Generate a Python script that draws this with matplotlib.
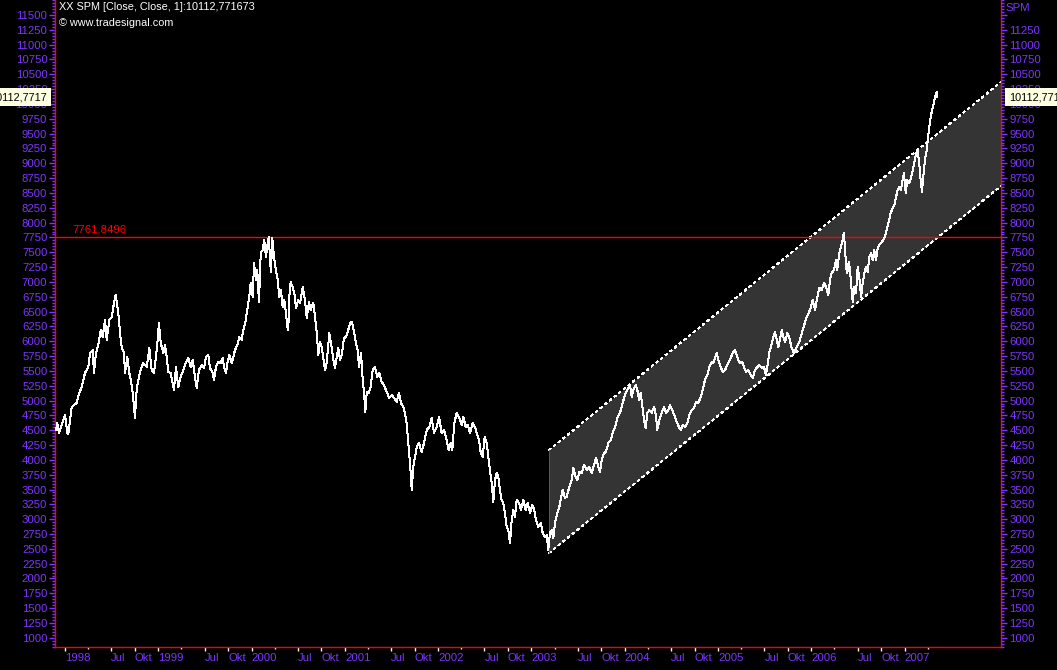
import matplotlib
matplotlib.use("Agg")
import matplotlib.pyplot as plt
import matplotlib.transforms as mtransforms
from matplotlib.ticker import FixedLocator, MultipleLocator, FixedFormatter

# Tradesignal-Chart "XX SPM", Schlusskurse 1998 - 2007 mit Trendkanal

plt.rcParams['font.family'] = ['Liberation Sans', 'DejaVu Sans']
plt.rcParams['font.size'] = 8.2

LILA = '#7d35ff'
ROT = '#ff0000'

# --- Kursverlauf (Zeit als Dezimaljahr) ---
zeit_1 = [
    1997.904, 1997.917, 1997.936, 1997.965, 1998.000, 1998.025, 1998.035, 1998.072, 1998.125, 1998.153,
    1998.179, 1998.214, 1998.250, 1998.268, 1998.297, 1998.311, 1998.332, 1998.357, 1998.383, 1998.404,
    1998.429, 1998.447, 1998.475, 1998.501, 1998.518, 1998.543, 1998.571, 1998.597, 1998.608, 1998.632,
    1998.643, 1998.668, 1998.689, 1998.707, 1998.726, 1998.750, 1998.768, 1998.786, 1998.811, 1998.839,
    1998.876, 1998.904, 1998.929, 1998.954, 1998.975, 1998.989, 1999.007, 1999.026, 1999.054, 1999.072,
    1999.090, 1999.107, 1999.133, 1999.154, 1999.168, 1999.190, 1999.214, 1999.240, 1999.268, 1999.297,
    1999.322, 1999.347, 1999.369, 1999.393, 1999.412, 1999.436, 1999.465, 1999.490, 1999.511, 1999.536,
    1999.554, 1999.583, 1999.597, 1999.618, 1999.643, 1999.669, 1999.690, 1999.704, 1999.726, 1999.740,
    1999.761, 1999.787, 1999.804, 1999.822, 1999.847, 1999.868, 1999.894, 1999.911, 1999.932, 1999.954,
    1999.975, 1999.990, 2000.012, 2000.026, 2000.047, 2000.061, 2000.079, 2000.098, 2000.119, 2000.136,
    2000.154, 2000.173, 2000.186, 2000.197, 2000.208, 2000.222, 2000.240, 2000.261, 2000.280, 2000.297,
    2000.315, 2000.333, 2000.350, 2000.369, 2000.383, 2000.393, 2000.404, 2000.419, 2000.440, 2000.458,
    2000.476, 2000.501,
]
kurs_1 = [
    4503, 4621, 4453, 4588, 4756, 4453, 4436, 4891, 4958, 5127,
    5228, 5464, 5565, 5801, 5852, 5464, 5801, 5936, 6189, 6071,
    6358, 6021, 6358, 6408, 6577, 6779, 6476, 6021, 5903, 5801,
    5464, 5734, 5464, 5346, 5127, 4706, 5178, 5346, 5515, 5633,
    5565, 5886, 5515, 5464, 5734, 5936, 6307, 5970, 5801, 5936,
    5734, 5481, 5464, 5296, 5178, 5565, 5228, 5397, 5515, 5650,
    5717, 5565, 5683, 5397, 5211, 5515, 5599, 5549, 5734, 5768,
    5549, 5464, 5346, 5565, 5650, 5633, 5717, 5565, 5464, 5633,
    5768, 5633, 5734, 5852, 5936, 6071, 6021, 6189, 6307, 6527,
    6746, 6982, 6746, 7319, 7032, 7201, 6661, 7487, 7538, 7707,
    7420, 7656, 7762, 7369, 7167, 7740, 7420, 7201, 7032, 6746,
    6864, 6577, 6695, 6476, 6240, 6189, 6746, 6998, 6914, 6813,
    6560, 6695,
]

zeit_2 = [
    2000.519, 2000.548, 2000.572, 2000.591, 2000.615, 2000.633, 2000.661, 2000.680, 2000.698, 2000.715,
    2000.733, 2000.751, 2000.768, 2000.787, 2000.805, 2000.833, 2000.858, 2000.876, 2000.894, 2000.912,
    2000.929, 2000.947, 2000.966, 2000.990, 2001.012, 2001.036, 2001.055, 2001.076, 2001.098, 2001.116,
    2001.137, 2001.151, 2001.173, 2001.191, 2001.205, 2001.219, 2001.234, 2001.255, 2001.276, 2001.298,
    2001.323, 2001.347, 2001.369, 2001.394, 2001.419, 2001.448, 2001.476, 2001.502, 2001.526, 2001.555,
    2001.580, 2001.601, 2001.626, 2001.644, 2001.662, 2001.679, 2001.698, 2001.716, 2001.733, 2001.751,
    2001.770, 2001.794, 2001.823, 2001.848, 2001.877, 2001.905, 2001.930, 2001.955, 2001.984, 2002.009,
    2002.037, 2002.062, 2002.091, 2002.112, 2002.134, 2002.151, 2002.173, 2002.198, 2002.223, 2002.252,
    2002.269, 2002.295, 2002.316, 2002.341, 2002.370, 2002.394, 2002.413, 2002.437, 2002.455, 2002.477,
    2002.498, 2002.520, 2002.537, 2002.555, 2002.573, 2002.591, 2002.609, 2002.627, 2002.644, 2002.662,
    2002.680, 2002.698, 2002.716, 2002.734, 2002.751, 2002.770, 2002.788, 2002.805, 2002.823, 2002.841,
    2002.866, 2002.887, 2002.912, 2002.938, 2002.959, 2002.984, 2003.009, 2003.030, 2003.048, 2003.073,
    2003.099, 2003.120, 2003.145, 2003.163, 2003.180,
]
kurs_2 = [
    6644, 6914, 6695, 6392, 6661, 6527, 6644, 6408, 6139, 5768,
    5987, 5903, 5717, 5515, 5633, 6139, 5903, 5683, 5549, 5717,
    5886, 5683, 5768, 6054, 6071, 6189, 6307, 6324, 6155, 5987,
    5852, 5565, 5801, 5346, 5127, 4807, 5144, 5127, 5228, 5515,
    5565, 5397, 5464, 5312, 5262, 5144, 5043, 5093, 5043, 4975,
    5127, 4958, 4891, 4790, 4621, 4284, 3947, 3492, 3880, 4048,
    4217, 4284, 4132, 4284, 4503, 4554, 4706, 4453, 4554, 4722,
    4453, 4503, 4335, 4166, 4284, 4166, 4621, 4790, 4722, 4588,
    4722, 4554, 4588, 4453, 4621, 4554, 4453, 4335, 4132, 4048,
    4385, 4284, 4048, 3829, 3610, 3289, 3660, 3778, 3711, 3492,
    3323, 3272, 3104, 2868, 2817, 2598, 2986, 3154, 3036, 3323,
    3272, 3154, 3323, 3154, 3272, 3104, 3239, 3154, 2986, 2868,
    2935, 2767, 2699, 2733, 2480,
]

zeit_3 = [
    2003.198, 2003.216, 2003.234, 2003.252, 2003.276, 2003.298, 2003.313, 2003.334, 2003.359, 2003.377,
    2003.405, 2003.431, 2003.448, 2003.474, 2003.491, 2003.512, 2003.538, 2003.563, 2003.592, 2003.619,
    2003.645, 2003.670, 2003.691, 2003.716, 2003.734, 2003.752, 2003.777, 2003.798, 2003.823, 2003.849,
    2003.870, 2003.895, 2003.920, 2003.948, 2003.977, 2003.995, 2004.013, 2004.037, 2004.056, 2004.074,
    2004.091, 2004.117, 2004.134, 2004.155, 2004.170, 2004.192, 2004.206, 2004.224, 2004.241, 2004.262,
    2004.288, 2004.313, 2004.334, 2004.348, 2004.370, 2004.395, 2004.420, 2004.441, 2004.466, 2004.484,
    2004.509, 2004.530, 2004.556, 2004.581, 2004.599, 2004.620, 2004.645, 2004.670, 2004.691, 2004.717,
    2004.742, 2004.763, 2004.788, 2004.813, 2004.835, 2004.859, 2004.884, 2004.906, 2004.931, 2004.948,
    2004.967, 2004.985, 2005.002, 2005.020, 2005.049, 2005.074, 2005.098, 2005.127, 2005.156, 2005.181,
    2005.199, 2005.216, 2005.235, 2005.259, 2005.277, 2005.299, 2005.324, 2005.349, 2005.371, 2005.395,
    2005.420, 2005.441, 2005.467, 2005.492, 2005.513, 2005.531, 2005.549, 2005.567, 2005.592, 2005.610,
    2005.628, 2005.645, 2005.663, 2005.682, 2005.699, 2005.717, 2005.742, 2005.763, 2005.789, 2005.813,
    2005.842, 2005.870,
]
kurs_3 = [
    2767, 2817, 2682, 2935, 3104, 3205, 3323, 3492, 3357, 3374,
    3542, 3660, 3863, 3711, 3660, 3795, 3778, 3913, 3829, 3880,
    3778, 3913, 4031, 3880, 3795, 3997, 4116, 4132, 4284, 4335,
    4453, 4554, 4706, 4790, 4958, 5060, 5144, 5211, 5262, 5060,
    5178, 5262, 5178, 5009, 5127, 4840, 4672, 4537, 4790, 4840,
    4790, 4891, 4756, 4503, 4672, 4790, 4891, 4790, 4840, 4925,
    4840, 4756, 4638, 4554, 4503, 4588, 4554, 4621, 4756, 4840,
    4874, 4975, 4958, 5060, 5178, 5346, 5431, 5565, 5650, 5633,
    5717, 5801, 5683, 5599, 5481, 5515, 5599, 5683, 5801, 5852,
    5768, 5683, 5633, 5650, 5565, 5481, 5515, 5431, 5380, 5515,
    5565, 5599, 5549, 5565, 5431, 5599, 5818, 5903, 6071, 6155,
    6021, 5903, 6021, 6189, 6071, 5987, 6139, 6054, 5886, 5801,
    5903, 5987,
]

zeit_4 = [
    2005.913, 2005.949, 2005.985, 2006.014, 2006.039, 2006.063, 2006.085, 2006.110, 2006.135, 2006.156,
    2006.181, 2006.199, 2006.217, 2006.242, 2006.263, 2006.277, 2006.299, 2006.317, 2006.335, 2006.346,
    2006.360, 2006.371, 2006.385, 2006.400, 2006.414, 2006.428, 2006.443, 2006.460, 2006.478, 2006.496,
    2006.513, 2006.532, 2006.550, 2006.567, 2006.585, 2006.603, 2006.620, 2006.639, 2006.657, 2006.674,
    2006.692, 2006.710, 2006.728, 2006.753, 2006.778, 2006.799, 2006.824, 2006.850, 2006.871, 2006.889,
    2006.907, 2006.925, 2006.942, 2006.960, 2006.978, 2006.992, 2007.011, 2007.028, 2007.049, 2007.067,
    2007.086, 2007.103, 2007.118, 2007.135, 2007.153, 2007.171, 2007.185, 2007.199, 2007.217, 2007.236,
    2007.246, 2007.260, 2007.274, 2007.289, 2007.303, 2007.317, 2007.332, 2007.343, 2007.350,
]
kurs_4 = [
    6223, 6408, 6527, 6695, 6527, 6746, 6897, 6864, 6982, 6914,
    6779, 7032, 7150, 7201, 7369, 7201, 7487, 7589, 7707, 7825,
    7589, 7251, 7150, 7336, 7201, 6914, 6661, 6914, 6813, 7251,
    7083, 6746, 6982, 7150, 7251, 7167, 7420, 7487, 7369, 7538,
    7369, 7572, 7622, 7673, 7724, 7825, 7993, 8162, 8246, 8297,
    8432, 8550, 8600, 8550, 8718, 8836, 8499, 8718, 8668, 8752,
    8887, 9005, 9140, 9224, 9055, 8718, 8516, 8769, 9055, 9224,
    9393, 9561, 9730, 9865, 9949, 10067, 10151, 10202, 10112.771673,
]

# Trendkanal (Start- und Endpunkt)
kanal_zeit = [2003.187, 2008.032]
kanal_unten = [2429, 8617]
kanal_oben = [4166, 10370]

# horizontale Linie (altes Hoch)
linie_wert = 7761.8496
letzter_kurs = 10112.771673

# Achsen
y_ticks_links = list(range(1000, 11501, 250))
y_ticks_rechts = list(range(1000, 11501, 250))
y_labels_rechts = [str(v) for v in range(1000, 11251, 250)] + ['']
jahre = list(range(1998, 2008))
monat_anteil = [0.0, 0.2466, 0.4959, 0.7479]   # Jan, Apr, Jul, Okt
monat_namen = [None, '', 'Jul', 'Okt']

zeit = zeit_1 + zeit_2 + zeit_3 + zeit_4
kurs = kurs_1 + kurs_2 + kurs_3 + kurs_4
if len(zeit) != len(kurs):
    print("Laengen passen nicht:", len(zeit), len(kurs))

# x-Ticks bis April 2007 (Ende der Kursdaten)
x_haupt, x_haupt_lbl, x_neben = [], [], []
for j in jahre:
    for anteil, name in zip(monat_anteil, monat_namen):
        t = j + anteil
        if t > zeit[-1] - 0.1:
            continue
        if name == '':
            x_neben.append(t)
        else:
            x_haupt.append(t)
            x_haupt_lbl.append(str(j) if name is None else name)

fig = plt.figure(figsize=(10.57, 6.70), dpi=100, facecolor='black')
ax = fig.add_axes([55 / 1057, 23 / 670, 946 / 1057, 647 / 670])
ax.set_facecolor('black')

# Kanal
ax.fill_between(kanal_zeit, kanal_unten, kanal_oben, color='#343434', lw=0, zorder=1)
ax.plot(kanal_zeit, kanal_oben, color='white', lw=0.72, ls=(0, (2.5, 3.5)), antialiased=False, zorder=2)
ax.plot(kanal_zeit, kanal_unten, color='white', lw=0.72, ls=(0, (2.5, 3.5)), antialiased=False, zorder=2)
ax.vlines(kanal_zeit[0], kanal_unten[0], kanal_oben[0], color='#5a5a5a', lw=0.72,
          antialiased=False, zorder=2)

ax.axhline(linie_wert, color=ROT, lw=1.0, snap=True, zorder=3)
ax.plot(zeit, kurs, color='white', lw=0.72, antialiased=False, zorder=4)

ax.set_xlim(1997.893, 2008.032)
ax.set_ylim(845, 11753)

for s in ['left', 'right', 'bottom']:
    ax.spines[s].set_color(ROT)
    ax.spines[s].set_linewidth(1.0)
ax.spines['top'].set_visible(False)

# linke y-Achse
ax.yaxis.set_major_locator(FixedLocator(y_ticks_links))
ax.yaxis.set_minor_locator(MultipleLocator(50))
ax.tick_params(axis='y', which='major', length=4.5, width=1, color=LILA, labelcolor=LILA, pad=1.0)
ax.tick_params(axis='y', which='minor', length=2, width=1, color=LILA)

# x-Achse
ax.set_xticks(x_haupt)
ax.set_xticklabels(x_haupt_lbl)
ax.set_xticks(x_neben, minor=True)
ax.tick_params(axis='x', which='major', length=3, width=1, color='white', labelcolor=LILA, pad=1.5)
ax.tick_params(axis='x', which='minor', length=1.5, width=1, color='white')
for lbl in ax.get_xticklabels():
    lbl.set_ha('left')

# rechte y-Achse
ax2 = ax.twinx()
ax2.set_ylim(ax.get_ylim())
for s in ax2.spines.values():
    s.set_visible(False)
ax2.yaxis.set_major_locator(FixedLocator(y_ticks_rechts))
ax2.yaxis.set_major_formatter(FixedFormatter(y_labels_rechts))
ax2.yaxis.set_minor_locator(MultipleLocator(50))
ax2.tick_params(axis='y', which='major', length=4.5, width=1, color=LILA, labelcolor=LILA, pad=1.5)
ax2.tick_params(axis='y', which='minor', length=2, width=1, color=LILA)

# Texte
fig.text(59 / 1057, 1 - 7 / 670, 'XX SPM [Close, Close, 1]:10112,771673', color='white',
         ha='left', va='center', fontsize=7.8)
fig.text(59 / 1057, 1 - 23 / 670, '\u00a9 www.tradesignal.com', color='white',
         ha='left', va='center', fontsize=7.8)
fig.text(1005 / 1057, 1 - 8 / 670, 'SPM', color=LILA, ha='left', va='center')

trans = mtransforms.blended_transform_factory(ax.transAxes, ax.transData)
ax.annotate('7761,8496', xy=(0.018, linie_wert), xycoords=trans, xytext=(0, 1.5),
            textcoords='offset points', color=ROT, ha='left', va='bottom')

# Boxen mit dem letzten Kurs (am Bildrand abgeschnitten)
box = dict(boxstyle='square,pad=0.35', facecolor='#ffffe1', edgecolor='none')
ax2.text(-0.0082, letzter_kurs, '10112,7717', transform=trans, color='black', ha='right',
         va='center', fontsize=7.8, bbox=box, clip_on=False, zorder=10)
ax2.text(1.0085, letzter_kurs, '10112,7717', transform=trans, color='black', ha='left',
         va='center', fontsize=7.8, bbox=box, clip_on=False, zorder=10)

fig.savefig('out.png', dpi=100, facecolor='black')
